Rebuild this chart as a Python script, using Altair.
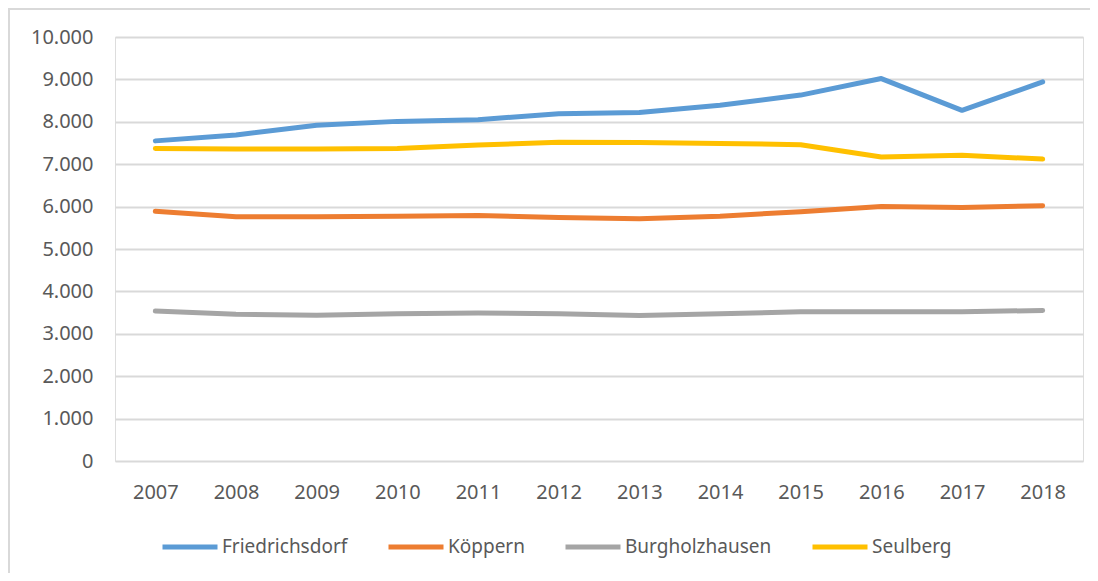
import altair as alt
import pandas as pd

years = ["2007", "2008", "2009", "2010", "2011", "2012", "2013", "2014", "2015", "2016", "2017", "2018"]
series = ["Friedrichsdorf", "Köppern", "Burgholzhausen", "Seulberg"]
friedrichsdorf = [7550, 7690, 7920, 8010, 8050, 8190, 8220, 8390, 8630, 9020, 8270, 8940]
koeppern = [5890, 5760, 5760, 5770, 5790, 5745, 5715, 5775, 5880, 6000, 5980, 6020]
burgholzhausen = [3535, 3460, 3440, 3470, 3490, 3470, 3430, 3470, 3520, 3520, 3520, 3550]
seulberg = [7370, 7360, 7360, 7370, 7450, 7520, 7510, 7490, 7460, 7170, 7210, 7120]
colors = ["#5B9BD5", "#ED7D31", "#A5A5A5", "#FFC000"]
y_ticks = [0, 1000, 2000, 3000, 4000, 5000, 6000, 7000, 8000, 9000, 10000]

rows = []
for name, vals in zip(series, [friedrichsdorf, koeppern, burgholzhausen, seulberg]):
    for yr, v in zip(years, vals):
        rows.append({"Jahr": yr, "Ort": name, "Wert": v})
df = pd.DataFrame(rows)

FONT = "Noto Sans"
W, H = 968, 424

lines = alt.Chart(df).mark_line(strokeWidth=5, strokeCap="round", strokeJoin="round").encode(
    x=alt.X("Jahr:N", sort=years,
            scale=alt.Scale(type="point", padding=0.5),
            axis=alt.Axis(title=None, labelAngle=0, ticks=False, domain=False, grid=False,
                          labelPadding=21, labelFontSize=20, labelFont=FONT, labelColor="#595959")),
    y=alt.Y("Wert:Q", scale=alt.Scale(domain=[0, 10000], nice=False),
            axis=alt.Axis(title=None, values=y_ticks, ticks=False, domain=False,
                          labelExpr="replace(format(datum.value, ','), ',', '.')",
                          labelPadding=22, labelFontSize=20, labelFont=FONT, labelColor="#595959",
                          gridColor="#D9D9D9", gridWidth=2)),
    color=alt.Color("Ort:N", sort=series,
                    scale=alt.Scale(domain=series, range=colors),
                    legend=alt.Legend(title=None, orient="none", direction="horizontal",
                                      legendX=45, legendY=480,
                                      symbolType="stroke", symbolSize=3025, symbolStrokeWidth=5,
                                      labelFontSize=19, labelFont=FONT, labelColor="#595959",
                                      labelOffset=2, columnPadding=30)),
)

border = alt.Chart(pd.DataFrame({"a": [0]})).mark_rect(
    fill=None, stroke="#D9D9D9", strokeWidth=2, clip=False
).encode(x=alt.value(-106), y=alt.value(-28), x2=alt.value(W + 40), y2=alt.value(H + 140))

chart = alt.layer(border, lines).properties(
    width=W, height=H,
    autosize=alt.AutoSizeParams(type="none"),
    padding={"left": 107, "top": 29, "right": 7, "bottom": 112},
).configure_view(stroke=None).configure(background="white")

chart.save("out.html", embed_options={"renderer": "svg", "actions": False})
